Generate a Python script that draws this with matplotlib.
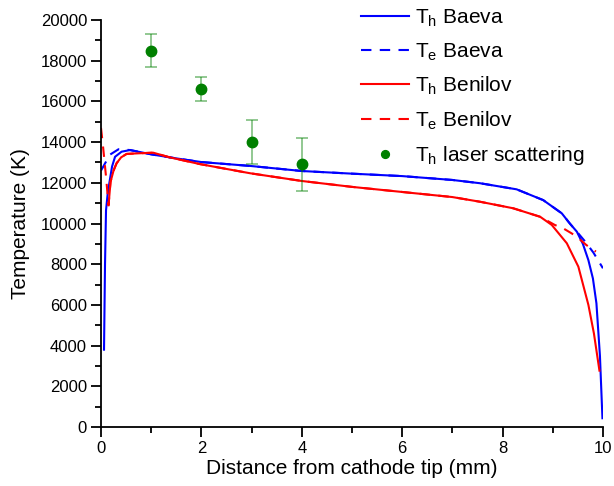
import matplotlib
matplotlib.use('Agg')
import matplotlib.pyplot as plt
from matplotlib.ticker import MultipleLocator

plt.rcParams['font.family'] = ['Liberation Sans', 'DejaVu Sans']

# T_h Baeva
th_baeva_x = [0.06, 0.08, 0.10, 0.13, 0.17, 0.22, 0.28, 0.41, 0.58, 0.8, 1.0, 1.5, 2.0, 2.97,
              4.0, 5.0, 6.0, 7.0, 7.55, 8.28, 8.81, 9.18, 9.34, 9.48, 9.6, 9.71, 9.8, 9.87, 9.94, 9.99]
th_baeva_y = [3800, 8000, 10650, 11400, 12050, 12800, 13280, 13530, 13610, 13500, 13400, 13200, 13020, 12830,
              12580, 12450, 12330, 12140, 11980, 11680, 11150, 10500, 10000, 9600, 9000, 8200, 7300, 6080, 3500, 430]

# T_e Baeva
te_baeva_x = [0.0, 0.1, 0.17, 0.35, 0.58, 0.8, 1.0, 1.5, 2.0, 2.97, 4.0, 5.0, 6.0, 7.0, 7.55,
              8.28, 8.81, 9.18, 9.34, 9.48, 9.65, 9.81, 10.0]
te_baeva_y = [12600, 13040, 13370, 13650, 13610, 13500, 13400, 13200, 13020, 12830, 12580, 12450, 12330, 12140, 11980,
              11680, 11150, 10500, 10000, 9600, 9100, 8570, 7800]

# T_h Benilov
th_benilov_x = [0.15, 0.19, 0.25, 0.31, 0.4, 0.51, 0.75, 1.04, 1.37, 1.97, 2.97, 4.0, 5.0, 6.0, 7.0,
                7.55, 8.21, 8.75, 8.98, 9.28, 9.51, 9.71, 9.82, 9.93]
th_benilov_y = [10900, 12050, 12600, 12960, 13250, 13420, 13450, 13480, 13250, 12920, 12470, 12090, 11800, 11550, 11300,
                11070, 10750, 10330, 9930, 9030, 7880, 6000, 4600, 2770]

# T_e Benilov
te_benilov_x = [0.0, 0.04, 0.1, 0.15, 0.19, 0.25, 0.31, 0.4, 0.51, 0.75, 1.04, 1.37, 1.97, 2.97, 4.0, 5.0, 6.0, 7.0,
                7.55, 8.21, 8.75, 9.04, 9.21, 9.38, 9.54, 9.67, 9.86]
te_benilov_y = [14700, 13800, 12300, 10900, 12050, 12600, 12960, 13250, 13420, 13450, 13480, 13250, 12920, 12470, 12090, 11800, 11550, 11300,
                11070, 10750, 10330, 9930, 9760, 9510, 9220, 8940, 8620]

# T_h laser scattering
laser_x = [1, 2, 3, 4]
laser_y = [18500, 16600, 14000, 12900]
laser_err = [800, 600, 1100, 1300]

fig = plt.figure(figsize=(6.14, 4.86), dpi=100)
ax = fig.add_axes([0.1645, 0.1214, 0.8175, 0.8374])

ax.plot(th_baeva_x, th_baeva_y, color='blue', lw=1.5, label='T$_\\mathregular{h}$ Baeva')
ax.plot(te_baeva_x, te_baeva_y, color='blue', lw=1.5, ls=(0, (5, 4)), label='T$_\\mathregular{e}$ Baeva')
ax.plot(th_benilov_x, th_benilov_y, color='red', lw=1.5, label='T$_\\mathregular{h}$ Benilov')
ax.plot(te_benilov_x, te_benilov_y, color='red', lw=1.5, ls=(0, (5, 4)), label='T$_\\mathregular{e}$ Benilov')

ax.errorbar(laser_x, laser_y, yerr=laser_err, fmt='none', ecolor='green', alpha=0.5,
            elinewidth=1.2, capsize=4, capthick=1.2)
ax.plot(laser_x, laser_y, 'o', color='green', ms=7.5, ls='none', label='T$_\\mathregular{h}$ laser scattering')

ax.set_xlim(0, 10)
ax.set_ylim(0, 20000)
ax.xaxis.set_major_locator(MultipleLocator(2))
ax.xaxis.set_minor_locator(MultipleLocator(1))
ax.yaxis.set_major_locator(MultipleLocator(2000))
ax.yaxis.set_minor_locator(MultipleLocator(1000))

ax.spines['right'].set_visible(False)
ax.spines['top'].set_visible(False)
ax.spines['left'].set_linewidth(1.3)
ax.spines['bottom'].set_linewidth(1.3)
ax.tick_params(which='major', direction='out', length=7, width=1.3, labelsize=12, pad=3)
ax.tick_params(which='minor', direction='out', length=4, width=1.3)

ax.set_xlabel('Distance from cathode tip (mm)', fontsize=15, labelpad=2)
ax.set_ylabel('Temperature (K)', fontsize=15, labelpad=8)

leg = ax.legend(loc='upper left', bbox_to_anchor=(0.588, 0.985), bbox_transform=fig.transFigure,
                frameon=False, fontsize=15, handlelength=2.3, handletextpad=0.3,
                labelspacing=0.58, borderpad=0, borderaxespad=0, numpoints=1, markerscale=0.75)

fig.savefig('out.png', dpi=100)
